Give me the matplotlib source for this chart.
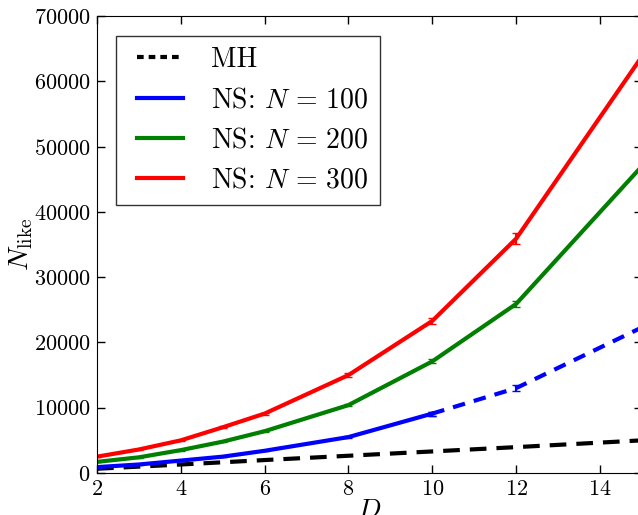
import matplotlib
matplotlib.use('Agg')
import matplotlib.pyplot as plt
from matplotlib.lines import Line2D
from matplotlib.legend_handler import HandlerLine2D
import numpy as np

plt.rcParams['font.family'] = 'serif'
plt.rcParams['font.serif'] = ['cmr10', 'DejaVu Serif']
plt.rcParams['mathtext.fontset'] = 'cm'
plt.rcParams['axes.formatter.use_mathtext'] = True

# dimension D and likelihood-call counts
D_mh = [2, 4, 6, 8, 10, 12, 15]
mh = [650, 1300, 1980, 2640, 3300, 3960, 5000]

D_ns = [2, 3, 4, 5, 6, 8, 10]
ns100 = [900, 1300, 1900, 2500, 3400, 5500, 9100]
ns100_err = [50, 50, 60, 70, 80, 150, 300]
ns100_ext_D = [10, 12, 15]
ns100_ext = [9100, 13000, 22300]
ns100_ext_err = [300, 500, 600]

D_big = [2, 3, 4, 5, 6, 8, 10, 12, 15]
ns200 = [1700, 2400, 3500, 4800, 6400, 10400, 17100, 25900, 47000]
ns200_err = [60, 70, 80, 100, 120, 200, 300, 400, 700]
ns300 = [2500, 3600, 5000, 7000, 9100, 15000, 23300, 35900, 63800]
ns300_err = [80, 90, 100, 130, 150, 300, 400, 800, 1000]

labels = ['MH', r'NS: $N\,=\,100$', r'NS: $N\,=\,200$', r'NS: $N\,=\,300$']
colors = ['k', '#0000ff', '#007f00', '#ff0000']

fig = plt.figure(figsize=(6.38, 5.15), dpi=100)
ax = fig.add_axes([0.152, 0.0816, 0.854, 0.887])

ax.plot(D_mh, mh, color=colors[0], lw=3, ls='--', dashes=(4, 2.4))
ax.errorbar(D_ns, ns100, yerr=ns100_err, color=colors[1], lw=3, capsize=3,
            elinewidth=1.5)
ax.errorbar(ns100_ext_D, ns100_ext, yerr=ns100_ext_err, color=colors[1], lw=3,
            ls='--', dashes=(3, 2.2), capsize=3, elinewidth=1.5)
ax.errorbar(D_big, ns200, yerr=ns200_err, color=colors[2], lw=3, capsize=3,
            elinewidth=1.5)
ax.errorbar(D_big, ns300, yerr=ns300_err, color=colors[3], lw=3, capsize=3,
            elinewidth=1.5)

ax.set_xlim(2, 15)
ax.set_ylim(0, 70000)
ax.set_xticks([2, 4, 6, 8, 10, 12, 14])
ax.set_yticks(np.arange(0, 70001, 10000))
ax.tick_params(direction='in', top=True, right=True, length=6, width=1,
               labelsize=16, pad=4.5)
ax.set_xlabel(r'$D$', fontsize=20, labelpad=-1)
ax.set_ylabel(r'$N_{\rm like}$', fontsize=20, labelpad=-1)

# legend shows plain lines only
handles = [Line2D([], [], color=colors[0], lw=3, ls='--', dashes=(1.6, 1.2))]
handles += [Line2D([], [], color=c, lw=3) for c in colors[1:]]
leg = ax.legend(handles, labels, loc='upper left', fontsize=20,
                handlelength=2.0, handletextpad=1.0, labelspacing=0.5,
                borderpad=0.4, borderaxespad=0.7, fancybox=False,
                framealpha=1,
                handler_map={Line2D: HandlerLine2D(xpad=0.35)})
leg.get_frame().set_edgecolor('#333333')

fig.savefig('out.png', dpi=100)
